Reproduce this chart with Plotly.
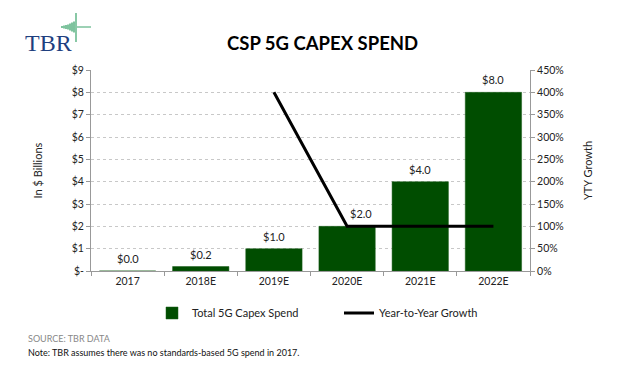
import plotly.graph_objects as go

categories = ["2017", "2018E", "2019E", "2020E", "2021E", "2022E"]
capex_spend = [0.0, 0.2, 1.0, 2.0, 4.0, 8.0]
yty_growth = [None, None, 400, 100, 100, 100]
bar_labels = ["$0.0", "$0.2", "$1.0", "$2.0", "$4.0", "$8.0"]
label_xshift = [0, 0, 0, 14, 0, 0]
left_tickvals = [0, 1, 2, 3, 4, 5, 6, 7, 8, 9]
left_ticktext = ["$-", "$1", "$2", "$3", "$4", "$5", "$6", "$7", "$8", "$9"]
right_tickvals = [0, 50, 100, 150, 200, 250, 300, 350, 400, 450]
right_ticktext = [f"{v}%" for v in right_tickvals]

FONT = "Lato, 'Open Sans', sans-serif"
GREEN = "#004d00"

fig = go.Figure()
fig.add_trace(go.Bar(
    x=categories, y=capex_spend, name="Total 5G Capex Spend", legend="legend",
    marker=dict(color=GREEN, line=dict(color="#1a5c1a", width=0.5)),
))
fig.add_trace(go.Scatter(
    x=categories, y=yty_growth, name="Year-to-Year Growth", yaxis="y2", legend="legend2",
    mode="lines", line=dict(color="black", width=3), connectgaps=False,
))

# data labels (category index used as x so the category axis is not extended)
for i, (val, lab, dx) in enumerate(zip(capex_spend, bar_labels, label_xshift)):
    fig.add_annotation(x=i, y=val, xref="x", yref="y", text=lab, showarrow=False,
                       xanchor="center", yanchor="bottom", yshift=4, xshift=dx,
                       font=dict(size=11, color="#222", family=FONT))

axis_common = dict(showline=True, linecolor="#999", linewidth=1,
                   ticks="outside", ticklen=4, tickcolor="#999",
                   tickfont=dict(size=10.5, color="#222", family=FONT))

def px_x(px):
    return (px - 91) / 439

def px_y(py):
    return (271 - py) / 201

legend_common = dict(orientation="h", xanchor="left", y=px_y(313), yanchor="middle",
                     font=dict(size=11, family=FONT, color="#222"), itemwidth=30,
                     bgcolor="rgba(0,0,0,0)")

fig.update_layout(
    width=619, height=370,
    margin=dict(l=91, r=89, t=70, b=99, autoexpand=False),
    paper_bgcolor="white", plot_bgcolor="white",
    font=dict(family=FONT, color="#222"),
    bargap=0.23,
    showlegend=True,
    legend=dict(x=px_x(152), **legend_common),
    legend2=dict(x=px_x(339), **legend_common),
    xaxis=dict(type="category", categoryorder="array", categoryarray=categories,
               range=[-0.5, len(categories) - 0.5],
               tickson="boundaries", **axis_common),
    yaxis=dict(range=[0, 9], tickvals=left_tickvals, ticktext=left_ticktext,
               showgrid=True, gridcolor="#c8c8c8", griddash="dot", gridwidth=1,
               zeroline=False,
               title=dict(text="In $ Billions", font=dict(size=11, family=FONT, color="#222"), standoff=26),
               **axis_common),
    yaxis2=dict(range=[0, 450], tickvals=right_tickvals, ticktext=right_ticktext,
                overlaying="y", side="right", showgrid=False, zeroline=False,
                title=dict(text="YTY Growth", font=dict(size=11, family=FONT, color="#222"), standoff=21),
                **axis_common),
)

fig.add_annotation(text="<b>CSP 5G CAPEX SPEND</b>", xref="paper", yref="paper",
                   x=px_x(322), y=px_y(43), xanchor="center", yanchor="middle",
                   showarrow=False, font=dict(size=18.5, family=FONT, color="black"))
fig.add_annotation(text="TBR", xref="paper", yref="paper",
                   x=px_x(23), y=px_y(43), xanchor="left", yanchor="middle",
                   showarrow=False,
                   font=dict(size=24, family="Liberation Serif, serif", color="#1f3f7f"))
fig.add_annotation(text="SOURCE: TBR DATA", xref="paper", yref="paper",
                   x=px_x(26), y=px_y(338), xanchor="left", yanchor="middle",
                   showarrow=False, font=dict(size=9, family=FONT, color="#888"))
fig.add_annotation(text="Note: TBR assumes there was no standards-based 5G spend in 2017.",
                   xref="paper", yref="paper",
                   x=px_x(26), y=px_y(352), xanchor="left", yanchor="middle",
                   showarrow=False, font=dict(size=9, family=FONT, color="#111"))

# TBR logo accent (decorative green spike)
spikes = [(62, 2), (64, 3), (66, 4), (68, 5), (70, 7), (72, 9), (74, 11)]
for px, h in spikes:
    fig.add_shape(type="line", xref="paper", yref="paper",
                  x0=px_x(px), x1=px_x(px), y0=px_y(27 - h / 2), y1=px_y(27 + h / 2),
                  line=dict(color="#3aa36a", width=1.3))
fig.add_shape(type="line", xref="paper", yref="paper",
              x0=px_x(76), x1=px_x(76), y0=px_y(13), y1=px_y(42),
              line=dict(color="#3aa36a", width=1.2))
fig.add_shape(type="line", xref="paper", yref="paper",
              x0=px_x(77), x1=px_x(91), y0=px_y(27), y1=px_y(27),
              line=dict(color="#3aa36a", width=1))

fig.write_html("out.html", config={"displayModeBar": False},
               post_script="document.body.style.margin='0';")
